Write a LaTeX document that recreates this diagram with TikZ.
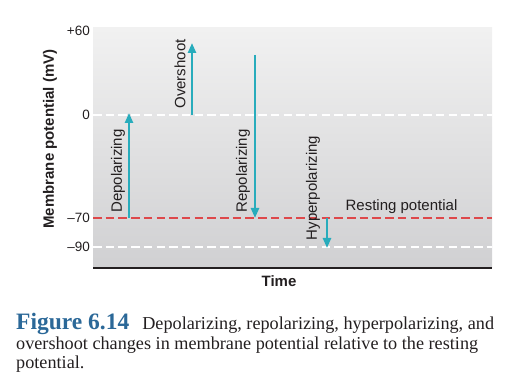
\documentclass[tikz,border=0pt]{standalone}
\usepackage{fontspec}
\setmainfont{Liberation Serif}
\setsansfont{Liberation Sans}
\usetikzlibrary{arrows.meta}
\definecolor{arrteal}{RGB}{40,172,188}
\definecolor{restred}{RGB}{222,72,74}
\definecolor{figblue}{RGB}{43,104,152}
\definecolor{ink}{RGB}{35,31,32}
\definecolor{bgtop}{RGB}{241,241,241}
\definecolor{bgbot}{RGB}{208,208,210}
\tikzset{
  arr/.style={draw=arrteal, line width=2.4pt, -{Triangle[width=8pt,length=10pt]}},
  ticklbl/.style={font=\sffamily\fontsize{13.5}{15}\selectfont, text=ink, anchor=east, inner sep=0pt},
  arrlbl/.style={font=\sffamily\fontsize{15}{17}\selectfont, text=ink, rotate=90, inner sep=0pt},
  lvl/.style={line width=1.8pt, dash pattern=on 8.5pt off 4.2pt},
  capline/.style={anchor=base west, inner sep=0pt, text=ink, font=\fontsize{18.2}{19.5}\selectfont},
}
\begin{document}
\begin{tikzpicture}[x=1pt,y=-1pt]
\useasboundingbox (0,0) rectangle (507,390);
% plot background
\shade[top color=bgtop, bottom color=bgbot] (93,28) rectangle (492,268);
% level lines
\coordinate (zl) at (93,115); \coordinate (zr) at (492,115);
\coordinate (rl) at (93,218); \coordinate (rr) at (492,218);
\coordinate (hl) at (93,247); \coordinate (hr) at (492,247);
\coordinate (al) at (93,268); \coordinate (ar) at (492,268);
\draw[lvl, white] (zl) -- (zr);
\draw[lvl, white] (hl) -- (hr);
\draw[lvl, restred] (rl) -- (rr);
\draw[line width=2.6pt, ink] (al) -- (ar);
% tick labels
\node[ticklbl] (t60) at (90,31) {+60};
\node[ticklbl] (t0) at (90,115) {0};
\node[ticklbl] (t70) at (90,218) {–70};
\node[ticklbl] (t90) at (90,247) {–90};
% y-axis label
\node[font=\sffamily\bfseries\fontsize{15}{17}\selectfont, text=ink, rotate=90, inner sep=0pt] (ylab) at (50,139) {Membrane potential (mV)};
% arrows
\coordinate (d0) at (129,218); \coordinate (d1) at (129,113);
\coordinate (o0) at (192,115); \coordinate (o1) at (192,43);
\coordinate (r0) at (255,55);  \coordinate (r1) at (255,218);
\coordinate (h0) at (327,218); \coordinate (h1) at (327,248);
\draw[arr] (d0) -- (d1);
\draw[arr] (o0) -- (o1);
\draw[arr] (r0) -- (r1);
\draw[arr] (h0) -- (h1);
% arrow labels
\node[arrlbl] (ldep) at (118,171) {Depolarizing};
\node[arrlbl] (lover) at (180,74) {Overshoot};
\node[arrlbl] (lrep) at (243,171) {Repolarizing};
\node[arrlbl] (lhyp) at (313,188) {Hyperpolarizing};
\node[font=\sffamily\fontsize{15}{17}\selectfont, text=ink, inner sep=0pt] (lrest) at (401.5,207) {Resting potential};
\node[font=\sffamily\bfseries\fontsize{15}{17}\selectfont, text=ink, inner sep=0pt] (ltime) at (279,281) {Time};
% caption
\node[capline] (cap1) at (16,330)
  {{\color{figblue}\fontsize{23.5}{19.5}\selectfont\bfseries Figure 6.14}\hspace{13pt}Depolarizing, repolarizing, hyperpolarizing, and};
\node[capline] (cap2) at (16,349.5) {overshoot changes in membrane potential relative to the resting};
\node[capline] (cap3) at (16,369) {potential.};
\end{tikzpicture}
\end{document}
